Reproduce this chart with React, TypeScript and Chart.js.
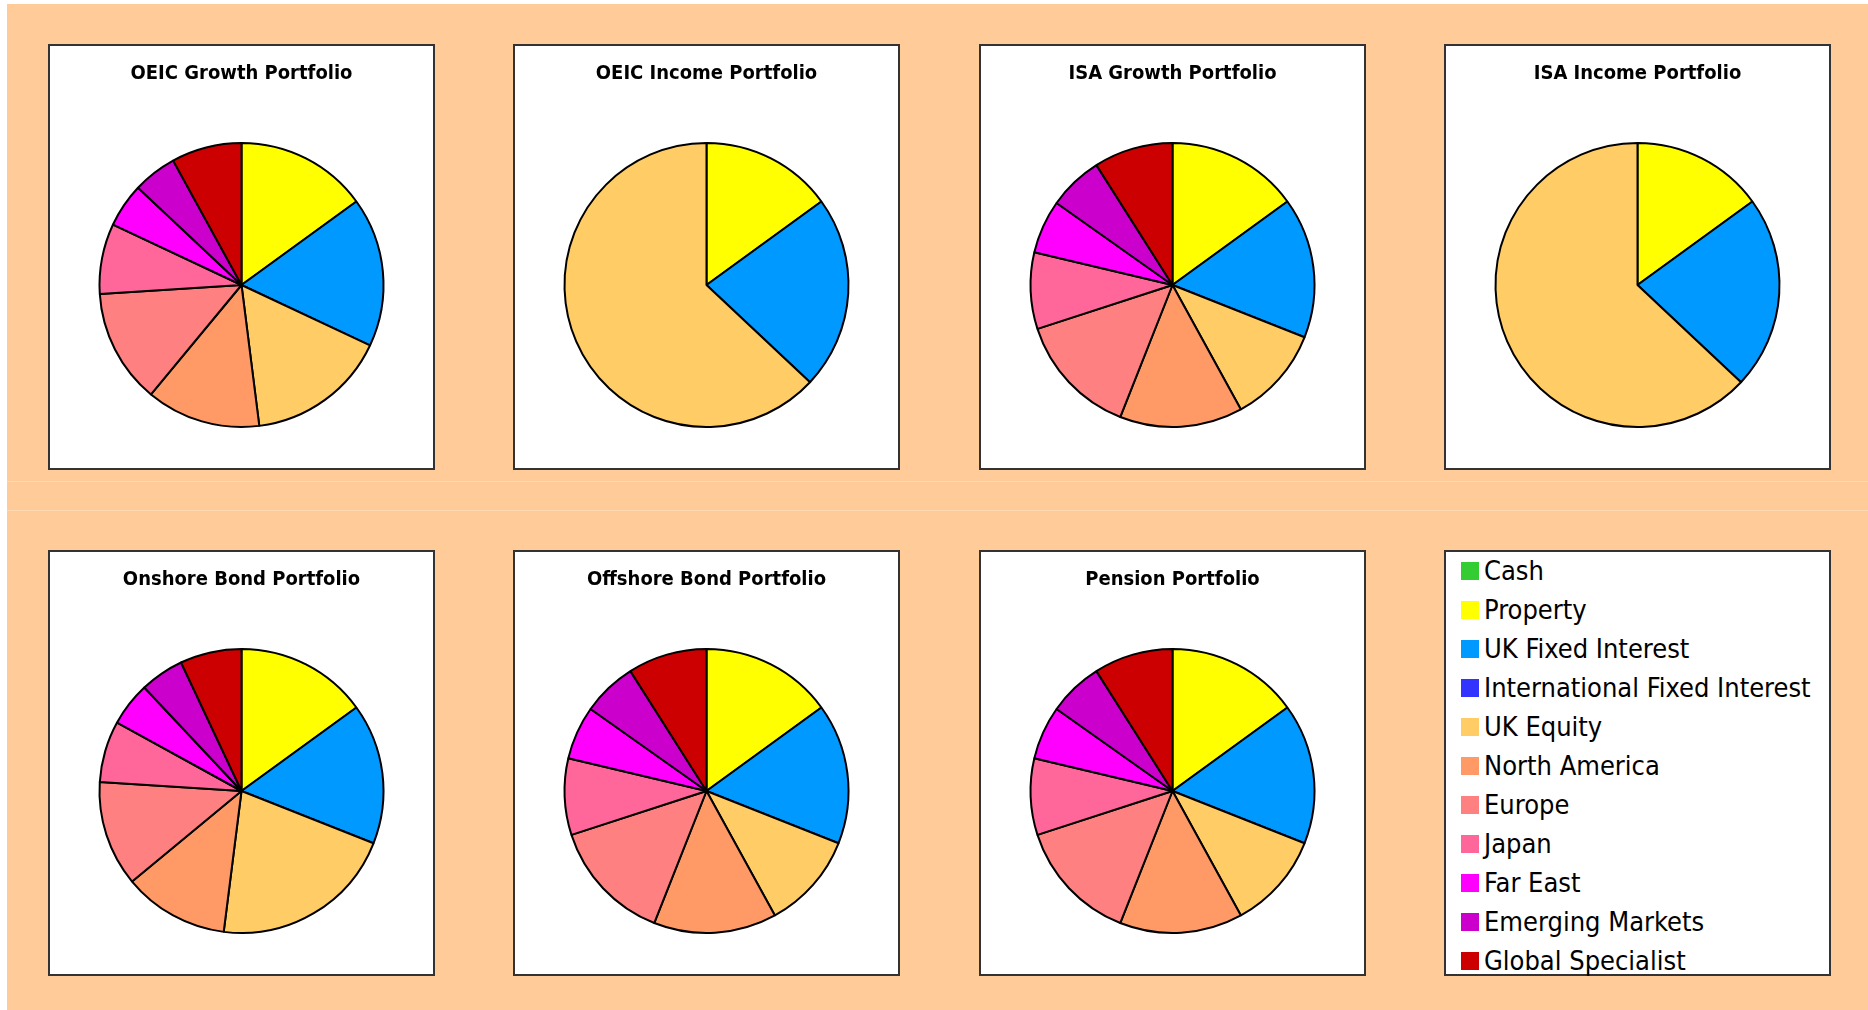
import React, { useEffect, useRef } from "react";
import { Chart, registerables } from "chart.js";

Chart.register(...registerables);

// ---- data ----
const categories = [
  "Cash",
  "Property",
  "UK Fixed Interest",
  "International Fixed Interest",
  "UK Equity",
  "North America",
  "Europe",
  "Japan",
  "Far East",
  "Emerging Markets",
  "Global Specialist",
];
const categoryColors = [
  "#33CC33",
  "#FFFF00",
  "#0099FF",
  "#3333FF",
  "#FFCC66",
  "#FF9966",
  "#FF8080",
  "#FF6699",
  "#FF00FF",
  "#CC00CC",
  "#CC0000",
];
const portfolioTitles = [
  "OEIC Growth Portfolio",
  "OEIC Income Portfolio",
  "ISA Growth Portfolio",
  "ISA Income Portfolio",
  "Onshore Bond Portfolio",
  "Offshore Bond Portfolio",
  "Pension Portfolio",
];
const oeicGrowth = [0, 15, 17, 0, 16, 13, 13, 8, 5, 5, 8];
const oeicIncome = [0, 15, 22, 0, 63, 0, 0, 0, 0, 0, 0];
const isaGrowth = [0, 15, 16, 0, 11, 14, 14, 8.7, 6.1, 6.2, 9];
const isaIncome = [0, 15, 22, 0, 63, 0, 0, 0, 0, 0, 0];
const onshoreBond = [0, 15, 16, 0, 21, 12, 12, 7, 5, 5, 7];
const offshoreBond = [0, 15, 16, 0, 11, 14, 14, 8.7, 6.1, 6.2, 9];
const pension = [0, 15, 16, 0, 11, 14, 14, 8.7, 6.1, 6.2, 9];
const portfolioValues = [oeicGrowth, oeicIncome, isaGrowth, isaIncome, onshoreBond, offshoreBond, pension];

// ---- layout ----
const COLS = [48, 513, 979, 1444];
const ROWS = [44, 550];
const PW = 387;
const PH = 426;
const FONT = '"DejaVu Sans Condensed", "DejaVu Sans", sans-serif';

function PiePanel(props: { title: string; values: number[]; left: number; top: number }) {
  const ref = useRef<HTMLCanvasElement>(null);
  useEffect(() => {
    const chart = new Chart(ref.current as HTMLCanvasElement, {
      type: "pie",
      data: {
        labels: categories,
        datasets: [
          {
            data: props.values,
            backgroundColor: categoryColors,
            borderColor: "#000000",
            borderWidth: (c: any) => (c.raw === 0 ? 0 : 2),
            radius: 142,
          } as any,
        ],
      },
      options: {
        responsive: false,
        animation: false,
        devicePixelRatio: 1,
        layout: { padding: 0 },
        plugins: {
          legend: { display: false },
          tooltip: { enabled: false },
          title: {
            display: true,
            text: props.title,
            color: "#000000",
            font: { family: FONT, size: 20, weight: "bold", lineHeight: 1.2 },
            padding: { top: 16, bottom: 16 },
          },
        },
      } as any,
    });
    return () => chart.destroy();
  }, []);
  return (
    <div
      style={{
        position: "absolute",
        left: props.left,
        top: props.top,
        width: PW,
        height: PH,
        boxSizing: "border-box",
        border: "2px solid #333333",
        background: "#ffffff",
      }}
    >
      <canvas ref={ref} width={PW - 4} height={PH - 4} style={{ display: "block" }} />
    </div>
  );
}

function Legend(props: { left: number; top: number }) {
  return (
    <div
      style={{
        position: "absolute",
        left: props.left,
        top: props.top,
        width: PW,
        height: PH,
        boxSizing: "border-box",
        border: "2px solid #333333",
        background: "#ffffff",
        fontFamily: FONT,
        fontSize: 27,
        color: "#000",
      }}
    >
      {categories.map((c, i) => (
        <div key={c} style={{ position: "absolute", left: 0, top: 19 + 39 * i - 15, height: 30, width: PW - 4 }}>
          <div
            style={{
              position: "absolute",
              left: 15,
              top: 6,
              width: 18,
              height: 18,
              background: categoryColors[i],
            }}
          />
          <div style={{ position: "absolute", left: 38, top: 0, lineHeight: "30px", whiteSpace: "nowrap" }}>{c}</div>
        </div>
      ))}
    </div>
  );
}

export default function App() {
  const panels = portfolioTitles.map((t, i) => ({
    title: t,
    values: portfolioValues[i],
    left: COLS[i % 4],
    top: ROWS[Math.floor(i / 4)],
  }));
  return (
    <div style={{ position: "fixed", left: 0, top: 0, width: 1868, height: 1010, background: "#ffffff", overflow: "hidden" }}>
      <div style={{ position: "absolute", left: 7, top: 4, right: 0, bottom: 0, background: "#FFCC99" }} />
      <div style={{ position: "absolute", left: 7, top: 481, right: 0, height: 1, background: "#FFD9B3" }} />
      <div style={{ position: "absolute", left: 7, top: 510, right: 0, height: 1, background: "#FFD9B3" }} />
      {panels.map((p) => (
        <PiePanel key={p.title} title={p.title} values={p.values} left={p.left} top={p.top} />
      ))}
      <Legend left={COLS[3]} top={ROWS[1]} />
    </div>
  );
}
